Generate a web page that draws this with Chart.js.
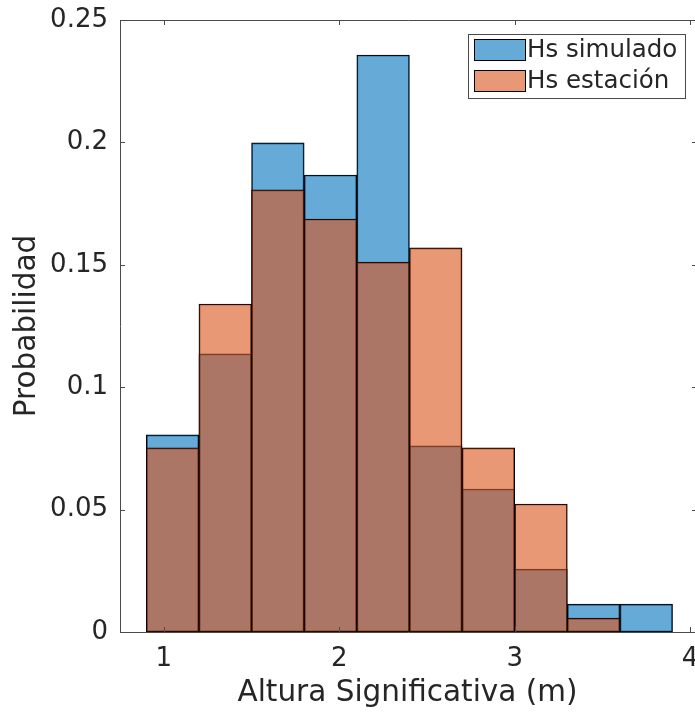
<!DOCTYPE html>
<html>
<head>
<meta charset="utf-8">
<script src="https://cdn.jsdelivr.net/npm/chart.js@4.4.1/dist/chart.umd.min.js"></script>
<style>
  html, body { margin: 0; padding: 0; background: #fff; }
  #wrap { width: 695px; height: 713px; }
</style>
</head>
<body>
<div id="wrap"><canvas id="histChart" width="695" height="713"></canvas></div>
<script>
// Histogram data - bin centres (width 0.3) and probabilities
const binCenters = [1.05, 1.35, 1.65, 1.95, 2.25, 2.55, 2.85, 3.15, 3.45, 3.75];
const hsSimulado = [0.0805, 0.1136, 0.1998, 0.1867, 0.2357, 0.0760, 0.0584, 0.0257, 0.0114, 0.0114];
const hsEstacion = [0.0752, 0.1340, 0.1806, 0.1687, 0.1511, 0.1569, 0.0752, 0.0523, 0.0057, 0];
const seriesLabels = ["Hs simulado", "Hs estación"];
const xTicks = [1, 2, 3, 4];
const yTicks = [0, 0.05, 0.1, 0.15, 0.2, 0.25];

const textColor = "#262626";
const fontFamily = "'DejaVu Sans', sans-serif";
const blueFill = "rgba(0, 114, 189, 0.6)";
const orangeFill = "rgba(217, 83, 25, 0.6)";

function toPoints(vals) {
  return vals.map((v, i) => ({ x: binCenters[i], y: v }));
}

// drop the extra room chart.js keeps for overhanging tick labels
function noLabelPadding(scale) {
  scale.paddingLeft = 0;
  scale.paddingRight = 0;
  scale.paddingTop = 0;
  scale.paddingBottom = 0;
}

// MATLAB style box with inward ticks on all four sides
const axesBox = {
  id: "axesBox",
  afterDatasetsDraw(chart) {
    const { ctx, chartArea: a, scales } = chart;
    const tickLen = 5;
    ctx.save();
    ctx.strokeStyle = "#4a4a4a";
    ctx.lineWidth = 1;
    ctx.beginPath();
    // left, bottom, top (right edge of the box falls just outside the figure)
    ctx.moveTo(Math.round(a.left) + 0.5, Math.round(a.top) + 0.5);
    ctx.lineTo(Math.round(a.left) + 0.5, Math.round(a.bottom) + 0.5);
    ctx.lineTo(a.right + 2, Math.round(a.bottom) + 0.5);
    ctx.moveTo(Math.round(a.left) + 0.5, Math.round(a.top) + 0.5);
    ctx.lineTo(a.right + 2, Math.round(a.top) + 0.5);
    const rightX = a.right + 2;
    xTicks.forEach(v => {
      const px = Math.round(scales.x.getPixelForValue(v)) + 0.5;
      ctx.moveTo(px, a.bottom); ctx.lineTo(px, a.bottom - tickLen);
      ctx.moveTo(px, a.top); ctx.lineTo(px, a.top + tickLen);
    });
    yTicks.forEach(v => {
      const py = Math.round(scales.y.getPixelForValue(v)) + 0.5;
      ctx.moveTo(a.left, py); ctx.lineTo(a.left + tickLen, py);
      ctx.moveTo(rightX, py); ctx.lineTo(rightX - tickLen, py);
    });
    ctx.stroke();
    ctx.restore();
  }
};

// legend drawn inside the plot, top right corner
const insideLegend = {
  id: "insideLegend",
  afterDraw(chart) {
    const { ctx } = chart;
    const box = { x: 468.5, y: 34.5, w: 217, h: 64 };
    ctx.save();
    ctx.fillStyle = "#fff";
    ctx.fillRect(box.x, box.y, box.w, box.h);
    ctx.strokeStyle = "#4a4a4a";
    ctx.lineWidth = 1;
    ctx.strokeRect(box.x, box.y, box.w, box.h);
    ctx.font = "24.5px " + fontFamily;
    ctx.textBaseline = "middle";
    ctx.fillStyle = textColor;
    const rows = [39.5, 70.5];
    chart.data.datasets.forEach((ds, i) => {
      ctx.fillStyle = ds.backgroundColor;
      ctx.fillRect(474.5, rows[i], 51, 21);
      ctx.strokeStyle = "#000";
      ctx.strokeRect(474.5, rows[i], 51, 21);
      ctx.fillStyle = textColor;
      ctx.fillText(ds.label, 527, rows[i] + 11);
    });
    ctx.restore();
  }
};

const ctx = document.getElementById("histChart").getContext("2d");
const histChart = new Chart(ctx, {
  type: "bar",
  data: {
    datasets: [
      {
        label: seriesLabels[0],
        data: toPoints(hsSimulado),
        backgroundColor: blueFill,
        borderColor: "#000",
        borderWidth: 1,
        borderSkipped: false,
        order: 2
      },
      {
        label: seriesLabels[1],
        data: toPoints(hsEstacion),
        backgroundColor: orangeFill,
        borderColor: "#000",
        borderWidth: 1,
        borderSkipped: false,
        order: 1
      }
    ]
  },
  options: {
    responsive: false,
    animation: false,
    grouped: false,
    barPercentage: 1,
    categoryPercentage: 1,
    layout: { padding: { top: 20, right: 0, left: 0, bottom: 0 } },
    plugins: {
      legend: { display: false },
      tooltip: { enabled: false }
    },
    scales: {
      x: {
        type: "linear",
        min: 0.75,
        max: 4.028,
        offset: false,
        grid: { display: false, offset: false, drawTicks: false },
        border: { display: false },
        afterBuildTicks: scale => { scale.ticks = xTicks.map(v => ({ value: v })); },
        afterFit: scale => { scale.height = 81; noLabelPadding(scale); },
        ticks: {
          color: textColor,
          padding: 12,
          maxRotation: 0,
          font: { family: fontFamily, size: 26 },
          callback: v => String(v)
        },
        title: {
          display: true,
          text: "Altura Significativa (m)",
          color: textColor,
          font: { family: fontFamily, size: 29.5 },
          padding: { top: 0, bottom: 2 }
        }
      },
      y: {
        min: 0,
        max: 0.25,
        grid: { display: false, drawTicks: false },
        border: { display: false },
        afterBuildTicks: scale => { scale.ticks = yTicks.map(v => ({ value: v })); },
        afterFit: scale => { scale.width = 120; noLabelPadding(scale); },
        ticks: {
          color: textColor,
          padding: 12,
          font: { family: fontFamily, size: 26 },
          callback: v => String(Math.round(v * 100) / 100)
        },
        title: {
          display: true,
          text: "Probabilidad",
          color: textColor,
          font: { family: fontFamily, size: 29.5 },
          padding: { top: 10, bottom: 0 }
        }
      }
    }
  },
  plugins: [axesBox, insideLegend]
});
</script>
</body>
</html>
